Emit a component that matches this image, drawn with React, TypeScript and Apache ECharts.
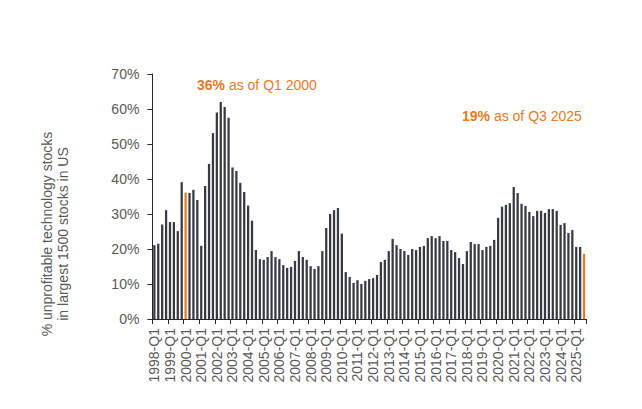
import React, { useEffect, useRef } from "react";
import * as echarts from "echarts";

const years: number[] = [];
for (let y = 1998; y <= 2025; y++) years.push(y);
const quarters = ["Q1", "Q2", "Q3", "Q4"];
const categories: string[] = [];
years.forEach((y) =>
  quarters.forEach((q) => {
    if (y === 2025 && q === "Q4") return;
    categories.push(`${y}-${q}`);
  })
);

const values: number[] = [
  21.1, 21.5, 27.0, 31.1, 27.7, 27.7, 25.1, 39.1, 36.1, 36.0, 36.9, 34.0, 20.9, 38.0, 44.3, 53.1,
  59.0, 62.0, 60.6, 57.5, 43.3, 42.3, 38.9, 36.3, 32.4, 28.1, 19.7, 17.1, 16.9, 17.7,
  19.4, 17.7, 17.1, 15.4, 14.6, 14.9, 16.6, 19.4, 17.7, 16.9, 15.1, 14.3, 15.1, 19.4, 26.0, 30.0,
  31.1, 31.7, 24.4, 13.4, 12.0, 10.3, 11.1, 10.0, 10.9, 11.4, 11.7, 12.6, 16.3, 16.9, 19.4,
  22.9, 21.1, 20.0, 19.4, 18.3, 20.0, 19.7, 20.6, 20.9, 23.1, 23.7, 23.1, 23.7, 22.3, 22.3, 19.7,
  19.1, 17.4, 15.7, 19.4, 22.0, 21.4, 21.4, 19.7, 20.6, 20.9,
  22.6, 28.9, 32.1, 32.6, 33.1, 37.7, 36.0, 32.9, 32.3, 30.6, 29.4, 30.9, 30.9, 30.3, 31.4, 31.4,
  30.9, 26.9, 27.4, 24.6, 25.4, 20.6, 20.6, 18.6,
];

const highlighted: string[] = ["2000-Q1", "2025-Q3"];
const yTicks = { min: 0, max: 70, interval: 10 };

const BAR = "#363A45";
const ORANGE = "#E57A1E";
const GRAY = "#595959";
const FONT = "Liberation Sans, Arial, sans-serif";

export default function App() {
  const ref = useRef<HTMLDivElement>(null);
  useEffect(() => {
    document.body.style.margin = "0";
    const chart = echarts.init(ref.current!, undefined, { renderer: "svg" });
    const data = values.map((v, i) =>
      highlighted.includes(categories[i])
        ? { value: v, itemStyle: { color: ORANGE } }
        : v
    );
    chart.setOption({
      animation: false,
      textStyle: { fontFamily: FONT },
      grid: { left: 152.4, right: 56, top: 74, bottom: 90, containLabel: false },
      xAxis: {
        type: "category",
        data: categories,
        boundaryGap: true,
        axisLine: { show: true, lineStyle: { color: "#262626", width: 1 } },
        axisTick: { show: true, interval: 3, length: 5, lineStyle: { color: "#262626" } },
        axisLabel: {
          interval: 3,
          rotate: 90,
          fontSize: 14,
          color: GRAY,
          margin: 9,
          fontFamily: FONT,
        },
        splitLine: { show: false },
      },
      yAxis: {
        type: "value",
        min: yTicks.min,
        max: yTicks.max,
        interval: yTicks.interval,
        axisLine: { show: true, lineStyle: { color: "#262626", width: 1 } },
        axisTick: { show: true, length: 5, lineStyle: { color: "#262626" } },
        axisLabel: { formatter: "{value}%", fontSize: 14, color: GRAY, margin: 13, fontFamily: FONT },
        splitLine: { show: false },
      },
      series: [
        {
          type: "bar",
          data,
          barWidth: "58%",
          itemStyle: { color: BAR },
        },
      ],
      graphic: [
        {
          type: "text",
          x: 55,
          y: 234,
          rotation: Math.PI / 2,
          style: {
            text: "% unprofitable technology stocks\nin largest 1500 stocks in US",
            fill: GRAY,
            font: `14px ${FONT}`,
            align: "center",
            verticalAlign: "middle",
            lineHeight: 16,
          },
        },
        {
          type: "text",
          x: 197,
          y: 85,
          style: {
            text: "{b|36%} as of Q1 2000",
            fill: ORANGE,
            font: `14px ${FONT}`,
            verticalAlign: "middle",
            rich: { b: { fontWeight: "bold", fontSize: 14, fill: ORANGE, fontFamily: FONT } },
          },
        },
        {
          type: "text",
          x: 462,
          y: 116,
          style: {
            text: "{b|19%} as of Q3 2025",
            fill: ORANGE,
            font: `14px ${FONT}`,
            verticalAlign: "middle",
            rich: { b: { fontWeight: "bold", fontSize: 14, fill: ORANGE, fontFamily: FONT } },
          },
        },
      ],
    });
    return () => chart.dispose();
  }, []);
  return <div ref={ref} style={{ width: 642, height: 409 }} />;
}
